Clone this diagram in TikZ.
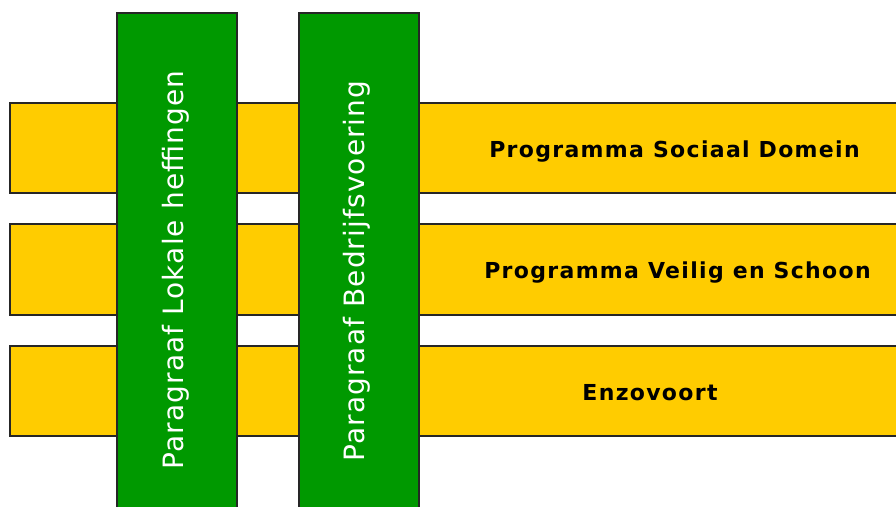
\documentclass[tikz,border=0pt]{standalone}
\usepackage{fontspec}
\setmainfont{DejaVu Sans}
\definecolor{barY}{HTML}{FFCC00}
\definecolor{barG}{HTML}{009900}
\begin{document}
\begin{tikzpicture}[x=1pt,y=-1pt,
  ybar/.style={fill=barY,draw=black!85,line width=1.5pt},
  gbar/.style={fill=barG,draw=black!85,line width=1.5pt},
  ytext/.style={font=\fontsize{22}{26}\selectfont\bfseries\addfontfeature{LetterSpace=6},text=black},
  gtext/.style={font=\fontsize{28}{32}\selectfont\addfontfeature{LetterSpace=4},text=white,rotate=90}]
\useasboundingbox (0,0) rectangle (896,506);
\clip (0,0) rectangle (896,506);
\draw[ybar] (10,103) rectangle (905,193);
\draw[ybar] (10,224) rectangle (905,315);
\draw[ybar] (10,346) rectangle (905,436);
\draw[gbar] (117,13) rectangle (237,515);
\draw[gbar] (299,13) rectangle (419,515);
\node[ytext] (t1) at (674.5,152) {Programma Sociaal Domein};
\node[ytext] (t2) at (677.5,273) {Programma Veilig en Schoon};
\node[ytext] (t3) at (650,393) {Enzovoort};
\node[gtext] (g1) at (176,270) {Paragraaf Lokale heffingen};
\node[gtext] (g2) at (357,271) {Paragraaf Bedrijfsvoering};
\end{tikzpicture}
\end{document}
